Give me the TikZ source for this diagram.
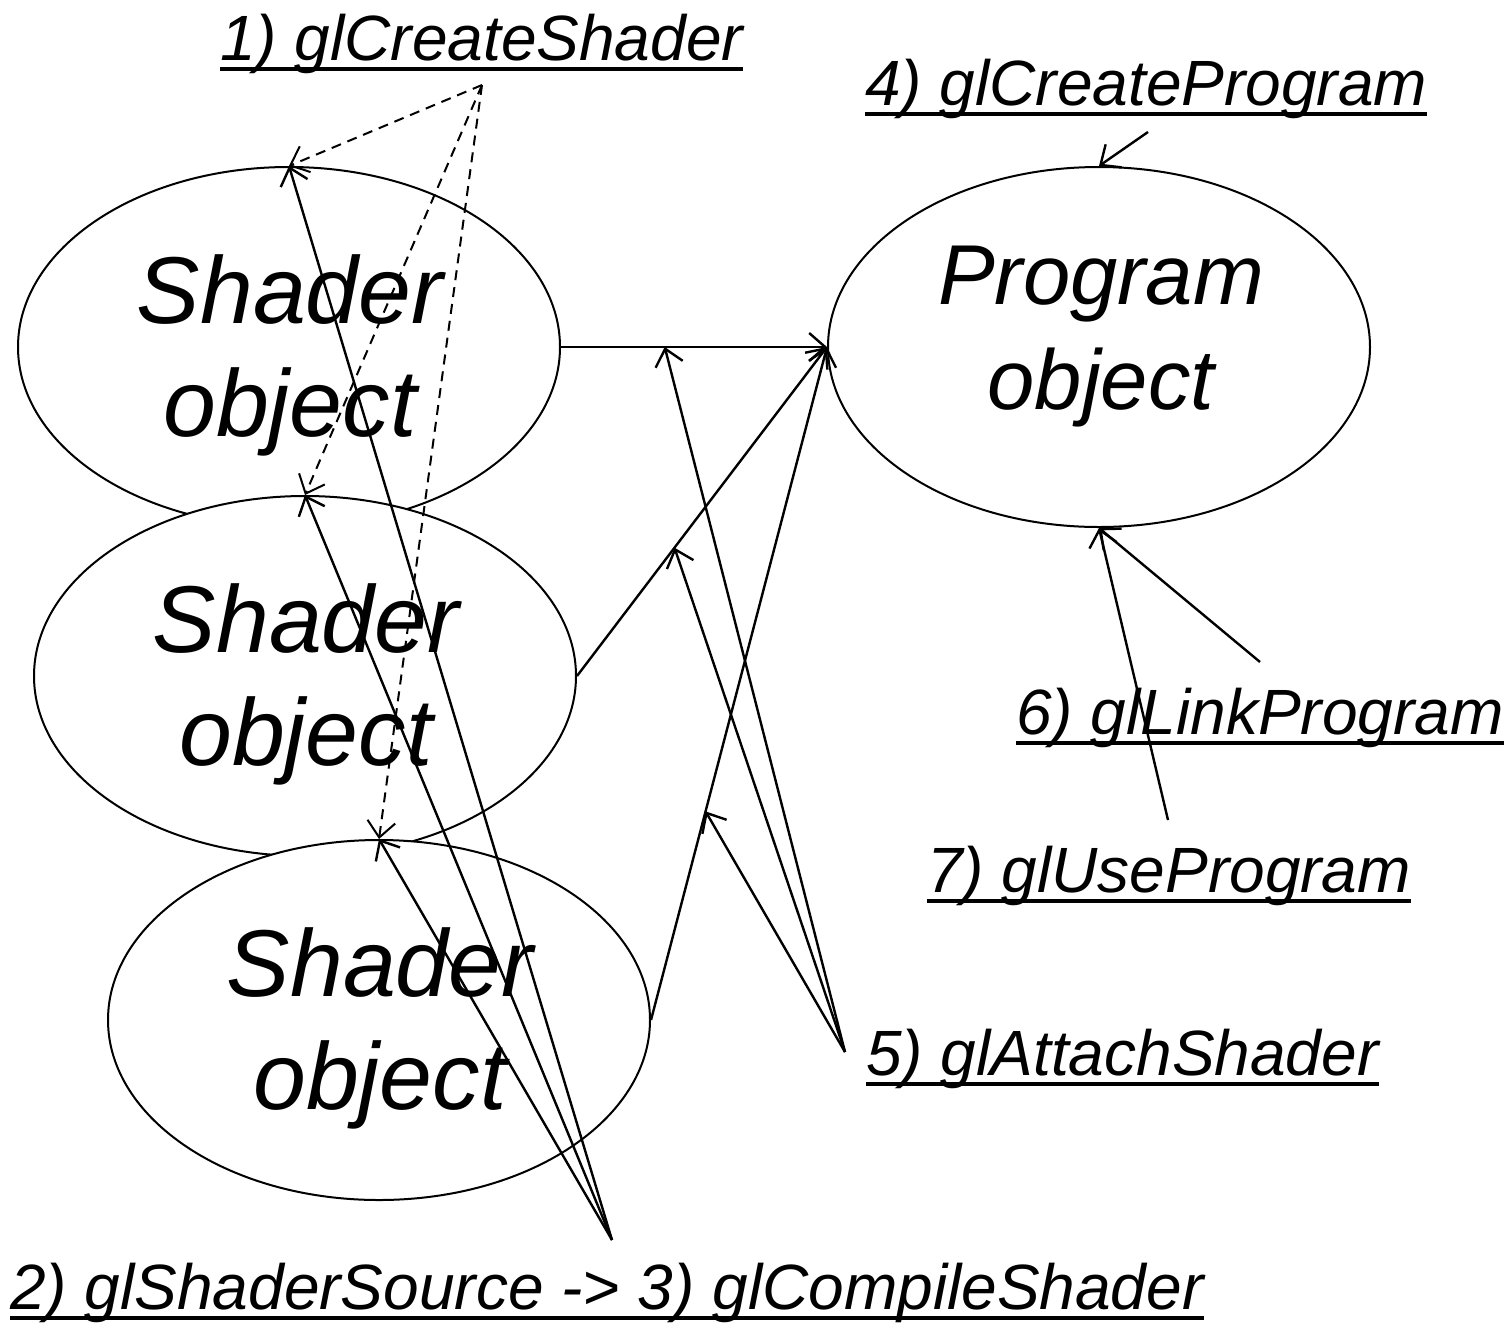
\documentclass[tikz,border=0pt]{standalone}
\usepackage{fontspec}
\setmainfont{Liberation Sans}
\usetikzlibrary{arrows.meta,shapes.geometric}
\tikzset{
  obj/.style={ellipse, draw, line width=2pt, fill=white, minimum width=542pt, minimum height=360pt, inner sep=0pt},
  shtxt/.style={align=center, inner sep=0pt, font=\fontsize{95}{113}\selectfont\itshape},
  prtxt/.style={align=center, inner sep=0pt, font=\fontsize{85}{105}\selectfont\itshape},
  lab/.style={anchor=base west, inner sep=0pt, font=\fontsize{64}{77}\selectfont\itshape},
  uline/.style={line width=4pt},
  arr/.style={line width=2.4pt, -{Straight Barb[length=16pt,width=28pt,line width=2.4pt]}},
  darr/.style={line width=2pt, dash pattern=on 10pt off 7pt, -{Straight Barb[length=16pt,width=28pt,line width=2pt]}},
}
\begin{document}
\begin{tikzpicture}[x=1pt,y=-1pt]
\useasboundingbox (0,0) rectangle (1508,1323);
% objects
\node[obj] (s1) at (289,347) {};
\node[shtxt] (s1t) at (290,355) {Shader\\object};
\node[obj] (s2) at (305,676) {};
\node[shtxt] (s2t) at (306,684) {Shader\\object};
\node[obj] (s3) at (379,1020) {};
\node[shtxt] (s3t) at (380,1028) {Shader\\object};
\node[obj] (p) at (1099,347) {};
\node[prtxt] (pt) at (1101,337) {Program\\object};
% labels
\node[lab] (l1) at (220,60) {1) glCreateShader};
\node[lab] (l4) at (865,105) {4) glCreateProgram};
\node[lab] (l6) at (1016,734) {6) glLinkProgram};
\node[lab] (l7) at (927,892) {7) glUseProgram};
\node[lab] (l5) at (866,1075) {5) glAttachShader};
\node[lab] (l2) at (10,1309) {2) glShaderSource -> 3) glCompileShader};
\foreach \n in {l1,l4,l6,l7,l5,l2}
  \draw[uline] ([yshift=-9pt]\n.base west) -- ([yshift=-9pt]\n.base east);
% connector origins
\coordinate (c1) at (482,85);
\coordinate (c2) at (612,1240);
\coordinate (c4) at (1148,132);
\coordinate (c5) at (845,1052);
\coordinate (c6) at (1260,662);
\coordinate (c7) at (1168,820);
% shader -> program
\draw[arr] (s1.east) -- (p.west) coordinate[pos=0.39] (m1);
\draw[arr] (s2.east) -- (p.west) coordinate[pos=0.39] (m2);
\draw[arr] (s3.east) -- (p.west) coordinate[pos=0.31] (m3);
% 1) create shader
\draw[darr] (c1) -- (s1.north);
\draw[darr] (c1) -- (s2.north);
\draw[darr] (c1) -- (s3.north);
% 2)->3)
\draw[arr] (c2) -- (s1.north);
\draw[arr] (c2) -- (s2.north);
\draw[arr] (c2) -- (s3.north);
% 5) attach
\draw[arr] (c5) -- (m1);
\draw[arr] (c5) -- (m2);
\draw[arr] (c5) -- (m3);
% 4) 6) 7)
\draw[arr] (c4) -- (p.north);
\draw[arr] (c6) -- (p.south);
\draw[arr] (c7) -- (p.south);
\end{tikzpicture}
\end{document}
